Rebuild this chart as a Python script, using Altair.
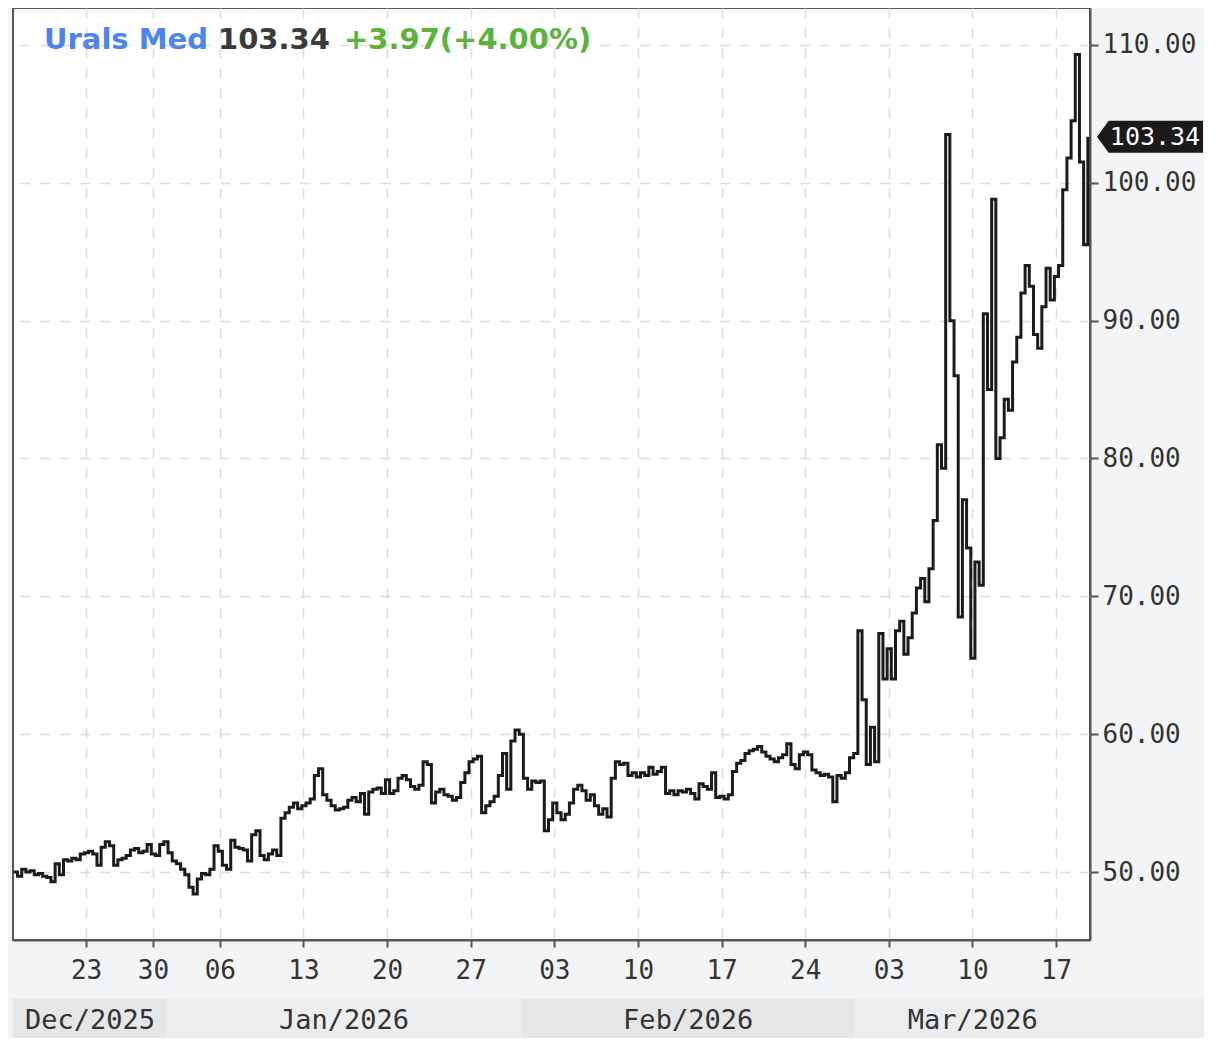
import altair as alt
import pandas as pd

# ---- text ----
title_name = "Urals Med"
title_price = "103.34"
title_change = "+3.97(+4.00%)"
last_price = 103.34

# ---- price series (trading-day positions, sampled every 0.25 day) ----
t0 = -0.35
dt = 0.25
prices = [
    50.0, 49.7, 50.2, 50.0, 50.1, 49.8, 49.9, 49.7, 49.6, 49.3,
    50.6, 49.8, 50.9, 50.8, 51.0, 50.9, 51.3, 51.4, 51.5, 51.3,
    50.5, 51.8, 52.2, 51.9, 50.5, 50.9, 51.0, 51.2, 51.6, 51.7,
    51.4, 51.5, 52.0, 51.3, 51.2, 52.0, 52.2, 51.4, 50.8, 50.6,
    50.2, 49.8, 48.9, 48.4, 49.5, 49.9, 49.8, 50.2, 51.9, 51.5,
    50.5, 50.2, 52.3, 51.8, 51.7, 51.6, 50.8, 52.7, 53.0, 51.2,
    50.9, 51.3, 51.6, 51.2, 53.9, 54.3, 54.7, 55.0, 54.6, 54.8,
    55.0, 55.3, 57.0, 57.5, 55.6, 55.2, 54.8, 54.5, 54.6, 54.7,
    55.2, 55.4, 55.1, 55.7, 54.2, 55.8, 56.0, 56.1, 55.7, 56.7,
    55.7, 55.9, 56.8, 57.0, 56.7, 56.2, 56.0, 56.3, 58.0, 57.8,
    55.0, 55.8, 56.0, 55.6, 55.5, 55.2, 55.4, 56.5, 57.2, 58.0,
    58.2, 58.4, 54.3, 54.8, 55.1, 55.5, 57.0, 58.6, 56.0, 59.5,
    60.3, 60.0, 56.8, 56.0, 56.6, 56.5, 56.6, 53.0, 53.8, 55.0,
    54.3, 53.8, 54.2, 55.0, 56.0, 56.3, 55.9, 55.2, 55.6, 54.8,
    54.2, 54.6, 54.0, 56.8, 58.0, 57.8, 57.9, 57.0, 57.2, 56.9,
    57.2, 57.0, 57.6, 57.1, 57.3, 57.6, 55.7, 55.9, 55.6, 55.9,
    55.8, 56.0, 55.7, 55.3, 56.4, 56.2, 56.0, 57.2, 55.4, 55.5,
    55.3, 55.6, 57.3, 57.9, 58.1, 58.6, 58.8, 58.9, 59.1, 58.7,
    58.4, 58.2, 58.0, 58.3, 58.5, 59.3, 57.8, 57.5, 58.5, 58.7,
    58.5, 57.4, 57.2, 57.0, 57.1, 56.9, 55.1, 57.0, 56.8, 57.2,
    58.3, 58.6, 67.5, 62.5, 57.8, 60.5, 58.0, 67.3, 64.0, 66.2,
    64.0, 67.5, 68.2, 65.8, 67.0, 68.8, 70.6, 71.3, 69.6, 72.0,
    75.5, 81.0, 79.3, 103.5, 90.0, 86.0, 68.5, 77.0, 73.5, 65.5,
    72.5, 70.8, 90.5, 85.0, 98.8, 80.0, 81.5, 84.3, 83.5, 87.0,
    88.8, 92.0, 94.0, 92.5, 89.0, 88.0, 91.0, 93.8, 91.5, 93.2,
    94.0, 99.5, 101.8, 104.5, 109.3, 101.5, 95.5, 103.34,
]

# ---- axes ----
tick_pos = [4, 8, 12, 17, 22, 27, 32, 37, 42, 47, 52, 57, 62]
tick_labels = ["23", "30", "06", "13", "20", "27", "03", "10", "17", "24", "03", "10", "17"]
y_ticks = [50, 60, 70, 80, 90, 100, 110]
x_domain = [-0.37, 64.03]
y_domain = [45.07, 112.68]

# ---- month band ----
month_names = ["Dec/2025", "Jan/2026", "Feb/2026", "Mar/2026"]
month_start = [-0.37, 8.85, 30.0, 50.0]
month_end = [8.85, 30.0, 50.0, 70.86]
month_fill = ["#e5e6e8", "#ecedef", "#e5e6e8", "#ecedef"]

MONO = "DejaVu Sans Mono"
TXT = "#333333"
FRAME = "#555555"

df = pd.DataFrame({"pos": [t0 + dt * i for i in range(len(prices))], "price": prices})
band_df = pd.DataFrame({"pos": month_start, "end": month_end, "fill": month_fill})
mtext_df = pd.DataFrame({
    "name": month_names,
    "pos": [(s + min(e, x_domain[1])) / 2 for s, e in zip(month_start, month_end)],
})
tag_df = pd.DataFrame({"price": [last_price], "label": [title_price]})

xs = alt.Scale(domain=x_domain, nice=False, zero=False)
ys = alt.Scale(domain=y_domain, nice=False, zero=False)

label_expr = "[" + ",".join("'%s'" % s for s in tick_labels) + "][indexof([" + \
    ",".join(str(v) for v in tick_pos) + "], datum.value)]"

x_axis = alt.Axis(
    values=tick_pos, labelExpr=label_expr, title=None, grid=True,
    gridColor="#dcdcdc", gridDash=[10, 10], gridWidth=1.5,
    domainColor=FRAME, domainWidth=2, tickColor=FRAME, tickWidth=2, tickSize=7,
    labelFont=MONO, labelFontSize=26, labelColor=TXT, labelPadding=10,
    labelFlush=False, labelOverlap=False)
y_axis = alt.Axis(
    orient="right", values=y_ticks, format=".2f", title=None, grid=True,
    gridColor="#dcdcdc", gridDash=[10, 10], gridWidth=1.5,
    domainColor=FRAME, domainWidth=2, tickColor=FRAME, tickWidth=2, tickSize=8,
    labelFont=MONO, labelFontSize=26, labelColor=TXT, labelPadding=4,
    labelFlush=False, labelOverlap=False)

line = alt.Chart(df).mark_line(
    interpolate="step-after", color="#1b1b1b", strokeWidth=3, clip=True
).encode(
    x=alt.X("pos:Q", scale=xs, axis=x_axis),
    y=alt.Y("price:Q", scale=ys, axis=y_axis),
)

bands = alt.Chart(band_df).mark_rect().encode(
    x=alt.X("pos:Q", scale=xs, axis=x_axis),
    x2="end:Q",
    y=alt.value(990),
    y2=alt.value(1032),
    color=alt.Color("fill:N", scale=None, legend=None),
)

month_text = alt.Chart(mtext_df).mark_text(
    font=MONO, fontSize=27, color=TXT, baseline="middle", align="center"
).encode(
    x=alt.X("pos:Q", scale=xs, axis=x_axis),
    y=alt.value(1013),
    text="name:N",
)

tag_shape = "M -1 0 L -0.78 -0.3 L 1 -0.3 L 1 0.3 L -0.78 0.3 Z"
tag = alt.Chart(tag_df).mark_point(
    shape=tag_shape, filled=True, size=106 * 106, color="#1a1a1a", opacity=1, strokeWidth=0
).encode(
    x=alt.value(1137),
    y=alt.Y("price:Q", scale=ys, axis=y_axis),
)
tag_text = alt.Chart(tag_df).mark_text(
    font=MONO, fontSize=25, color="white", align="center", baseline="middle"
).encode(
    x=alt.value(1142),
    y=alt.Y("price:Q", scale=ys, axis=y_axis),
    text="label:N",
)


def title_piece(text, x, color):
    return alt.Chart(pd.DataFrame({"t": [text]})).mark_text(
        align="left", baseline="alphabetic", font="DejaVu Sans", fontWeight="bold",
        fontSize=29, color=color
    ).encode(x=alt.value(x), y=alt.value(41), text="t:N")


t1 = title_piece(title_name, 31, "#4d84ee")
t2 = title_piece(title_price, 205, "#3a3a3a")
t3 = title_piece(title_change, 331, "#5cb33c")

chart = alt.layer(line, bands, month_text, tag, tag_text, t1, t2, t3).properties(
    width=1077, height=932,
    padding={"left": 5, "top": 0, "right": 114, "bottom": 98},
    autosize=alt.AutoSizeParams(type="none"),
).configure(background="#f3f4f6").configure_view(
    fill="white", stroke=FRAME, strokeWidth=2
)

chart.save("out.html", embed_options={"renderer": "svg", "actions": False})
